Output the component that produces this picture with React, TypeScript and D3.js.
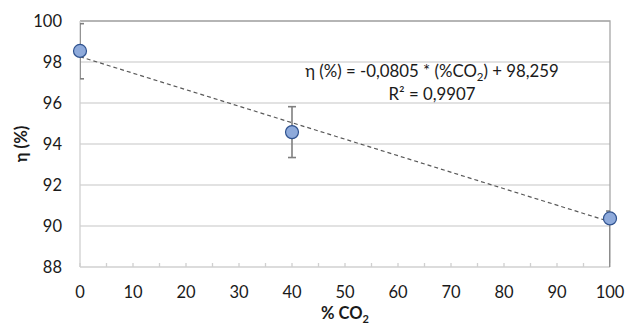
import React from "react";
import * as d3 from "d3";

const xValues = [0, 40, 100];
const yValues = [98.54, 94.58, 90.37];
const errPlus = [1.33, 1.24, 0.36];
const errMinus = [1.36, 1.24, 3.5];
const xTicks = [0, 10, 20, 30, 40, 50, 60, 70, 80, 90, 100];
const xMinorTicks = d3.range(0, 101, 5);
const yTicks = [88, 90, 92, 94, 96, 98, 100];
const slope = -0.0805;
const intercept = 98.259;

const W = 627;
const H = 325;
const m = { left: 80, right: 17, top: 21, bottom: 58 };
const FONT = "Lato, 'Open Sans', sans-serif";

export default function App() {
  const x = d3.scaleLinear().domain([0, 100]).range([m.left, W - m.right]);
  const y = d3.scaleLinear().domain([88, 100]).range([H - m.bottom, m.top]);
  const trend = d3
    .line<number>()
    .x((d) => x(d))
    .y((d) => y(slope * d + intercept));
  const [x0, x1] = x.range();
  const [yb, yt] = y.range();
  return (
    <svg width={W} height={H} style={{ position: "absolute", left: 0, top: 0 }} fontFamily={FONT}>
      <defs>
        <clipPath id="plot">
          <rect x={x0} y={yt} width={x1 - x0} height={yb - yt} />
        </clipPath>
      </defs>
      <rect width={W} height={H} fill="#fff" />
      {yTicks.slice(1).map((t) => (
        <line key={t} x1={x0} x2={x1} y1={y(t)} y2={y(t)} stroke="#d9d9d9" strokeWidth={1.3} />
      ))}
      <path d={`M${x0},${yt}H${x1}V${yb}`} fill="none" stroke="#a6a6a6" strokeWidth={1.3} />
      <line x1={x0} x2={x0} y1={yt} y2={yb} stroke="#d0d0d0" strokeWidth={1.3} />
      <line x1={x0} x2={x1} y1={yb} y2={yb} stroke="#d0d0d0" strokeWidth={1.3} />
      {xMinorTicks.map((t) => (
        <line key={t} x1={x(t)} x2={x(t)} y1={yb} y2={yb - 4} stroke="#d0d0d0" strokeWidth={1.3} />
      ))}
      {yTicks.map((t) => (
        <text key={t} x={62} y={y(t)} dy="0.36em" textAnchor="end" fontSize={16.5} fill="#1a1a1a">
          {t}
        </text>
      ))}
      {xTicks.map((t) => (
        <text key={t} x={x(t)} y={298} textAnchor="middle" fontSize={16.5} fill="#1a1a1a">
          {t}
        </text>
      ))}
      <g clipPath="url(#plot)">
        <path d={trend([0, 100]) || ""} fill="none" stroke="#595959" strokeWidth={1.2} strokeDasharray="4,3" />
        {xValues.map((xv, i) => {
          const top = y(yValues[i] + errPlus[i]);
          const bot = y(yValues[i] - errMinus[i]);
          return (
            <g key={i} stroke="#7f7f7f" strokeWidth={1.6}>
              <line x1={x(xv)} x2={x(xv)} y1={top} y2={bot} />
              <line x1={x(xv) - 4} x2={x(xv) + 4} y1={top} y2={top} />
              <line x1={x(xv) - 4} x2={x(xv) + 4} y1={bot} y2={bot} />
            </g>
          );
        })}
      </g>
      {xValues.map((xv, i) => (
        <circle key={i} cx={x(xv)} cy={y(yValues[i])} r={6.5} fill="#8eaadb" stroke="#2f528f" strokeWidth={1.2} />
      ))}
      <text x={432} y={77} textAnchor="middle" fontSize={16.8} fill="#1a1a1a">
        η (%) = -0,0805 * (%CO<tspan fontSize={11.5} dy={4}>2</tspan>
        <tspan dy={-4}>) + 98,259</tspan>
      </text>
      <text x={432} y={100} textAnchor="middle" fontSize={16.8} fill="#1a1a1a">
        R² = 0,9907
      </text>
      <text x={(x0 + x1) / 2} y={319} textAnchor="middle" fontSize={16.5} fontWeight="bold" fill="#1a1a1a">
        % CO<tspan fontSize={11} dy={4}>2</tspan>
      </text>
      <text
        transform={`translate(27,${(yt + yb) / 2}) rotate(-90)`}
        textAnchor="middle"
        fontSize={16.5}
        fontWeight="bold"
        fill="#1a1a1a"
      >
        η (%)
      </text>
    </svg>
  );
}
